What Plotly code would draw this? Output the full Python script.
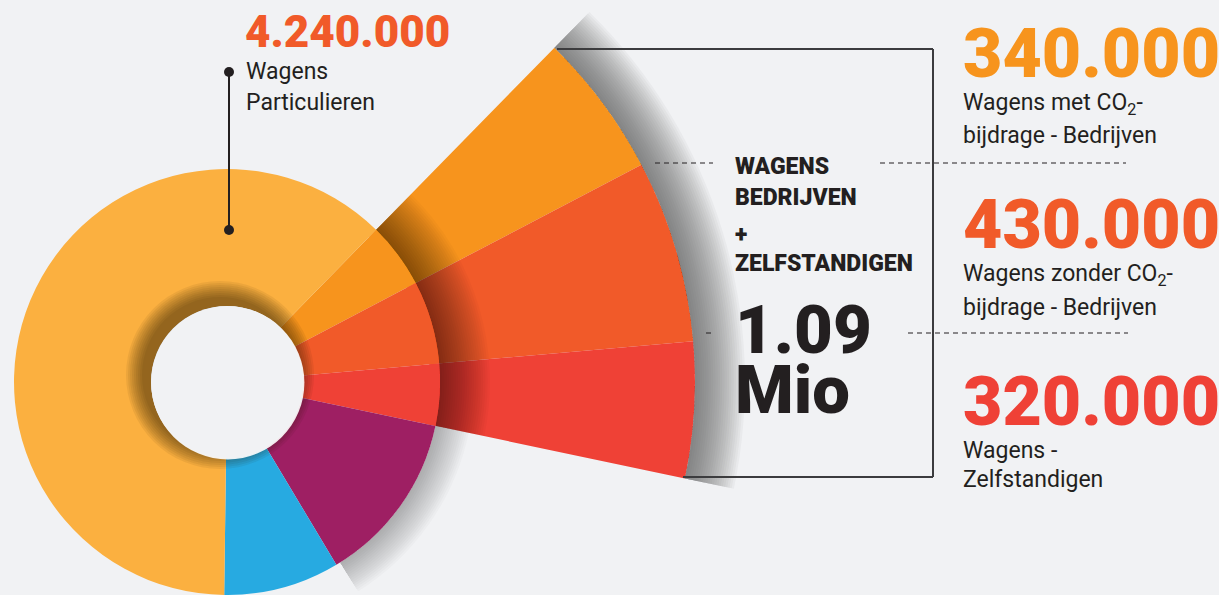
import plotly.graph_objects as go
import math

# ---------------- data ----------------
categories = [
    "Wagens met CO2-bijdrage - Bedrijven",
    "Wagens zonder CO2-bijdrage - Bedrijven",
    "Wagens - Zelfstandigen",
    "Overige categorie A",
    "Overige categorie B",
    "Wagens Particulieren",
]
values = [340000, 430000, 320000, 895000, 600000, 4240000]
fan_count = 3  # first three categories form the exploded fan
value_labels = ["340.000", "430.000", "320.000"]
part_label = "4.240.000"
fan_total_label = ["1.09", "Mio"]

# ---------------- style ----------------
W, H = 1219, 595
BG = "#F1F2F4"
DARK = "#231F20"
colors = ["#F7941D", "#F15A29", "#EF4136", "#9E1F63", "#27AAE1", "#FBB040"]
FONT = "Roboto, Liberation Sans, Arial, sans-serif"

CX, CY = 227, 382          # donut centre (px from top-left)
R_DONUT, R_HOLE, R_FAN = 213, 76, 468
R_POLAR = 520              # radial extent of fan subplot (room for shadow)
START = 45.6               # angle (deg, ccw from east) where the first slice begins

total = sum(values)
deg = [v / total * 360 for v in values]
fan_span = sum(deg[:fan_count])
fan_mid = START - fan_span / 2
fan_end = START - fan_span


def sector_bbox(a_start, a_end):
    arc = a_end - a_start
    a0 = a_start % 360
    a1 = a0 + arc
    ax0, ay0 = math.cos(math.radians(a0)), math.sin(math.radians(a0))
    ax1, ay1 = math.cos(math.radians(a1)), math.sin(math.radians(a1))
    if (a0 <= 90 and a1 >= 90) or (a0 > 90 and a1 >= 450):
        y1 = 1
    elif ay0 <= 0 and ay1 <= 0:
        y1 = 0
    else:
        y1 = max(ay0, ay1)
    if (a0 <= 180 and a1 >= 180) or (a0 > 180 and a1 >= 540):
        x0 = -1
    elif ax0 >= 0 and ax1 >= 0:
        x0 = 0
    else:
        x0 = min(ax0, ax1)
    if (a0 <= 270 and a1 >= 270) or (a0 > 270 and a1 >= 630):
        y0 = -1
    elif ay0 >= 0 and ay1 >= 0:
        y0 = 0
    else:
        y0 = min(ay0, ay1)
    if a1 >= 360:
        x1 = 1
    elif ax0 <= 0 and ax1 <= 0:
        x1 = 0
    else:
        x1 = max(ax0, ax1)
    return x0, y0, x1, y1


def polar_layout(sector, radius):
    bx0, by0, bx1, by1 = sector_bbox(*sector)
    return dict(
        domain=dict(x=[(CX + bx0 * radius) / W, (CX + bx1 * radius) / W],
                    y=[(H - (CY - by0 * radius)) / H, (H - (CY - by1 * radius)) / H]),
        sector=list(sector), hole=0, bgcolor="rgba(0,0,0,0)",
        radialaxis=dict(visible=False, range=[0, radius]),
        angularaxis=dict(visible=False, rotation=0, direction="counterclockwise"),
        barmode="overlay",
    )


def soft_ring(base, length, n, alpha, rgb, theta, width, subplot):
    """nested rings starting at `base` -> smooth radial fade (decoration)."""
    return go.Barpolar(
        r=[length * (i + 1) / n for i in range(n)], base=[base] * n,
        theta=[theta] * n, width=[width] * n,
        marker=dict(color=f"rgba({rgb},{alpha})", line=dict(width=0)),
        hoverinfo="skip", showlegend=False, subplot=subplot,
    )


fig = go.Figure()

# ---- exploded fan (barpolar, radial unit = px) ----
thetas, widths = [], []
cum = 0
for d in deg[:fan_count]:
    thetas.append(START - cum - d / 2)
    widths.append(d)
    cum += d

fan_base = R_DONUT - 10
fig.add_trace(go.Barpolar(
    r=[R_FAN - fan_base] * fan_count, base=[fan_base] * fan_count,
    theta=thetas, width=widths,
    marker=dict(color=colors[:fan_count], line=dict(width=0)),
    hovertext=categories[:fan_count], hoverinfo="text", showlegend=False, subplot="polar",
))
# shadow of donut on the fan + grey glow outside the fan
fig.add_trace(soft_ring(R_DONUT, 50, 22, 0.024, "0,0,0", fan_mid, fan_span, "polar"))
fig.add_trace(soft_ring(R_FAN, 50, 22, 0.048, "80,81,85", fan_mid, fan_span, "polar"))

# ---- drop shadow of donut on the lower right ----
sh_sector = (-58, fan_end + 0.2)
fig.add_trace(soft_ring(R_DONUT, 34, 16, 0.028, "60,60,65",
                        (sh_sector[0] + fan_end) / 2, fan_end - sh_sector[0], "polar2"))

fig.update_layout(polar=polar_layout((fan_end - 0.6, START + 0.4), R_POLAR),
                  polar2=polar_layout(sh_sector, 250))

# ---- donut ----
fig.add_trace(go.Pie(
    labels=categories, values=values, sort=False, direction="clockwise",
    rotation=90 - START, hole=R_HOLE / R_DONUT,
    marker=dict(colors=colors, line=dict(width=0)),
    textinfo="none", showlegend=False,
    domain=dict(x=[(CX - R_DONUT) / W, (CX + R_DONUT) / W],
                y=[(H - CY - R_DONUT) / H, (H - CY + R_DONUT) / H]),
))


# ---- shadow around the hole (decoration) ----
def disc(cx, cy, r, color):
    return go.Pie(values=[1], sort=False, marker=dict(colors=[color], line=dict(width=0)),
                  textinfo="none", hoverinfo="skip", showlegend=False,
                  domain=dict(x=[(cx - r) / W, (cx + r) / W],
                              y=[(H - cy - r) / H, (H - cy + r) / H]))


for i in range(9):
    fig.add_trace(disc(CX - 7, CY - 7, R_HOLE + 2.0 * (i + 1), "rgba(45,22,0,0.07)"))
fig.add_trace(disc(CX + 0.8, CY + 0.8, R_HOLE + 0.6, "rgba(255,255,255,0.9)"))
fig.add_trace(disc(CX, CY, R_HOLE, BG))

# ---------------- annotations ----------------
ann = []


def txt(x, y, text, size, color=DARK, bold=False, anchor="left"):
    ann.append(dict(
        x=x / W, y=1 - y / H, xref="paper", yref="paper",
        xanchor=anchor, yanchor="middle", showarrow=False, text=text,
        font=dict(family=FONT, size=size, color=color, weight=900 if bold else 400),
    ))


txt(243, 32, part_label, 44, colors[1], bold=True)
txt(244, 71.5, "Wagens", 23)
txt(244, 102.5, "Particulieren", 23)

right_x = 961
txt(right_x, 54, value_labels[0], 68, colors[0], bold=True)
txt(right_x, 104, "Wagens met CO<sub>2</sub>-", 23)
txt(right_x, 136, "bijdrage - Bedrijven", 23)
txt(right_x, 225, value_labels[1], 68, colors[1], bold=True)
txt(right_x, 275, "Wagens zonder CO<sub>2</sub>-", 23)
txt(right_x, 307, "bijdrage - Bedrijven", 23)
txt(right_x, 402, value_labels[2], 68, colors[2], bold=True)
txt(right_x, 450, "Wagens -", 23)
txt(right_x, 479, "Zelfstandigen", 23)

mid_x = 733
txt(mid_x, 166, "WAGENS", 23, bold=True)
txt(mid_x, 198, "BEDRIJVEN", 23, bold=True)
txt(mid_x, 235, "+", 23, bold=True)
txt(mid_x, 263, "ZELFSTANDIGEN", 23, bold=True)
txt(mid_x, 330, fan_total_label[0], 67, bold=True)
txt(mid_x, 390, fan_total_label[1], 67, bold=True)

# ---------------- decorative lines ----------------
shapes = []


def px_line(x0, y0, x1, y1, color="#3C3C3E", width=2, dash=None):
    ln = dict(color=color, width=width)
    if dash:
        ln["dash"] = dash
    shapes.append(dict(type="line", xref="paper", yref="paper",
                       x0=x0 / W, y0=1 - y0 / H, x1=x1 / W, y1=1 - y1 / H, line=ln))


px_line(557, 49, 933, 49)
px_line(933, 49, 933, 477)
px_line(683, 477, 933, 477)
px_line(655, 163, 713, 163, DARK, 1, "5px,4px")
px_line(880, 163, 1126, 163, DARK, 1, "5px,4px")
px_line(706, 333, 713, 333, DARK, 1, "5px,4px")
px_line(908, 333, 1128, 333, DARK, 1, "5px,4px")
px_line(229, 72, 229, 230, DARK, 2)


def dot(x, y, r):
    shapes.append(dict(type="circle", xref="paper", yref="paper",
                       x0=(x - r) / W, x1=(x + r) / W, y0=1 - (y + r) / H, y1=1 - (y - r) / H,
                       fillcolor=DARK, line=dict(width=0)))


dot(229, 72, 5)
dot(229, 230, 5)

fig.update_layout(
    width=W, height=H, paper_bgcolor=BG, plot_bgcolor=BG,
    margin=dict(l=0, r=0, t=0, b=0),
    annotations=ann, shapes=shapes, showlegend=False,
)

fig.write_html("out.html", config={"displayModeBar": False},
               post_script="document.body.style.margin='0';document.body.style.padding='0';")
